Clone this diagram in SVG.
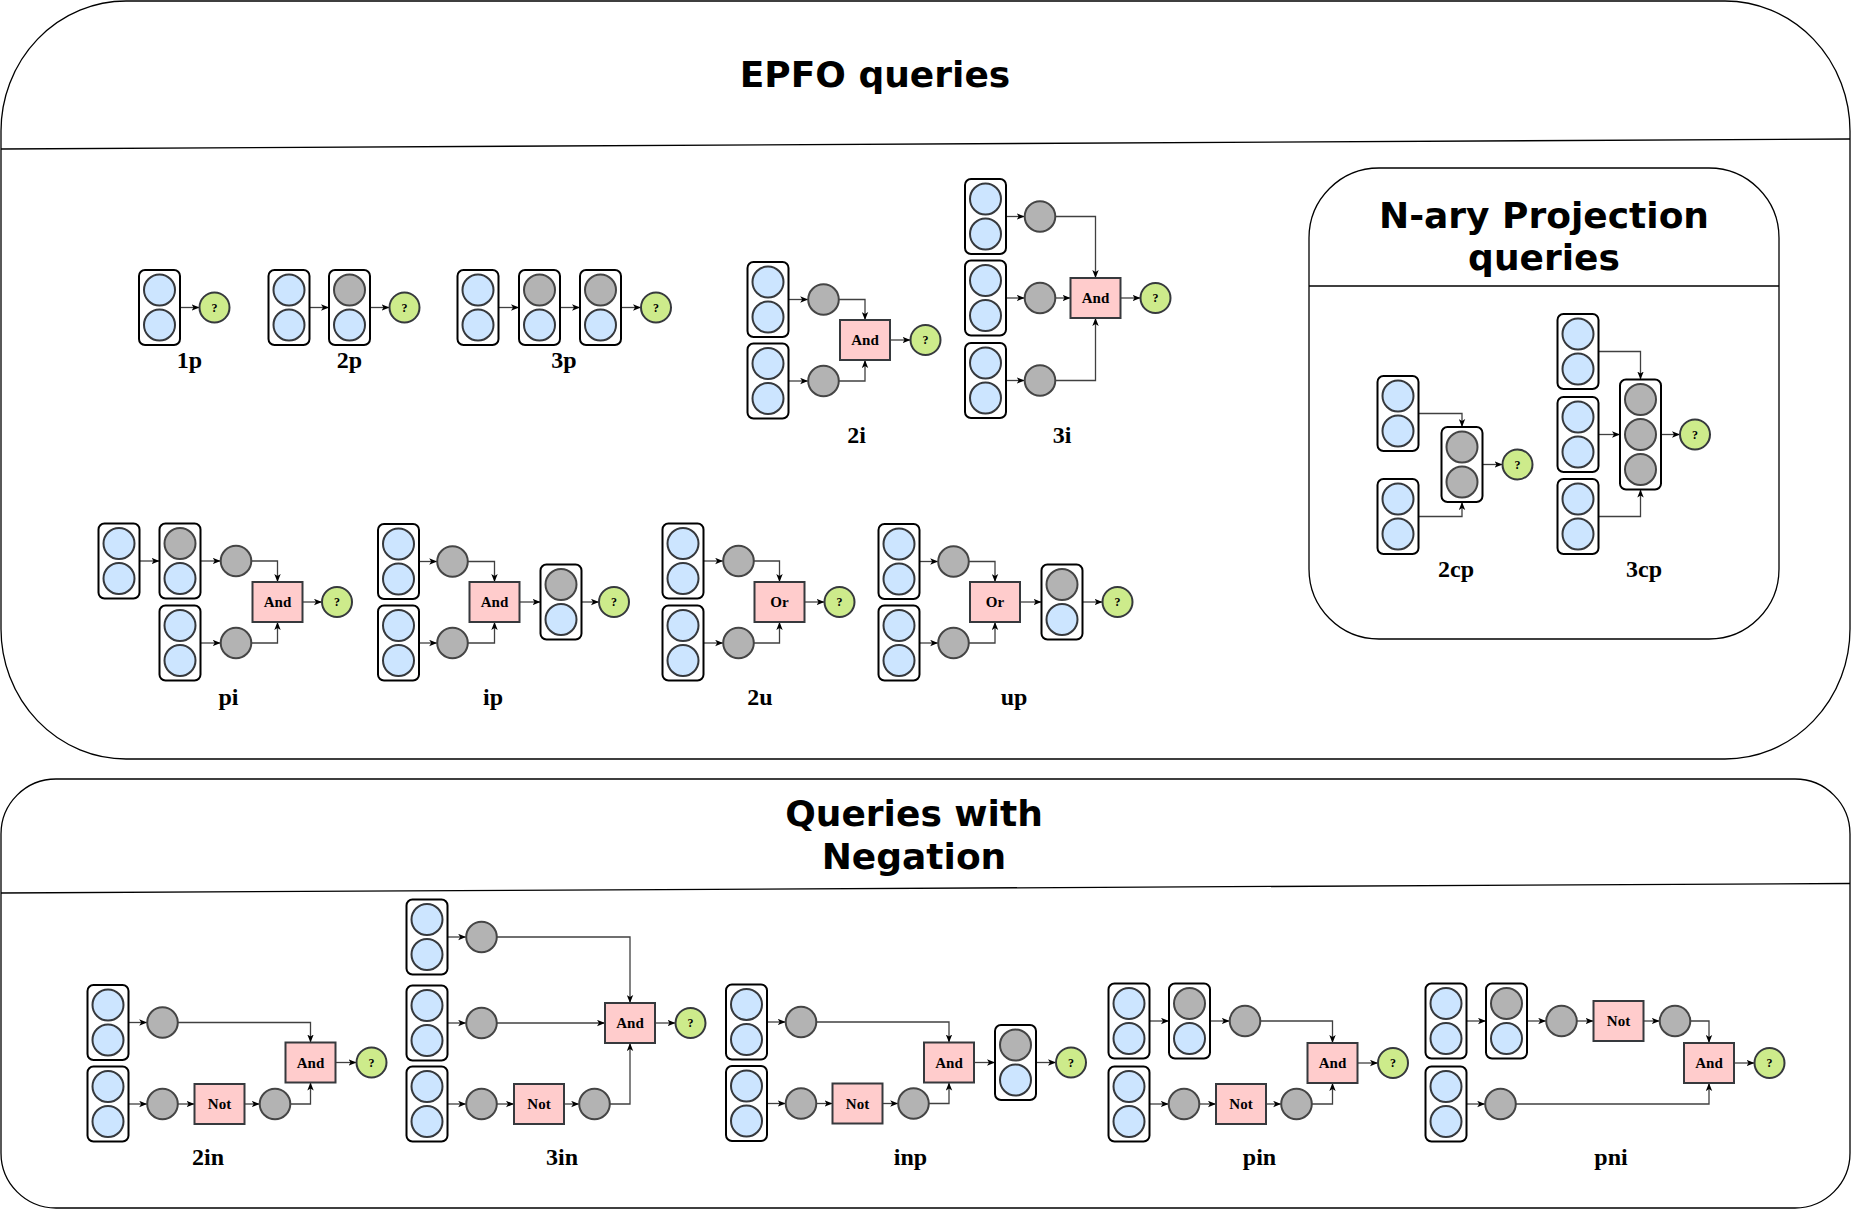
<svg xmlns="http://www.w3.org/2000/svg" xmlns:xlink="http://www.w3.org/1999/xlink" width="1852" height="1211" viewBox="0 0 1852 1211">
<style>
.cont{fill:#fff;stroke:#000;stroke-width:1.3}
.div{stroke:#000;stroke-width:1.3;fill:none}
.title{font-family:"DejaVu Sans",sans-serif;font-weight:bold;font-size:36px;text-anchor:middle;fill:#000}
.stk{fill:#fff;stroke:#000;stroke-width:2}
.b{fill:#cce5ff;stroke:#36393d;stroke-width:2}
.g{fill:#b3b3b3;stroke:#454545;stroke-width:2}
.ans{fill:#cdeb8b;stroke:#36393d;stroke-width:2}
.op{fill:#ffcccc;stroke:#36393d;stroke-width:2}
.t{font-family:"Liberation Serif","Times New Roman",serif;font-weight:bold;text-anchor:middle;fill:#000}
.lbl{font-size:24px}
.opt{font-size:15px}
.qt{font-size:12px}
.e{fill:none;stroke:#404040;stroke-width:1.3;marker-end:url(#arr)}
</style>
<defs>
<marker id="arr" viewBox="0 0 10 8" refX="10" refY="4" markerWidth="8" markerHeight="7" markerUnits="userSpaceOnUse" orient="auto"><path d="M0,0 L10,4 L0,8 L2.5,4 z" fill="#000"/></marker>
<g id="S-bb"><rect x="0" y="0" width="41" height="75" rx="6" class="stk"/><circle cx="20.5" cy="20" r="15.5" class="b"/><circle cx="20.5" cy="55" r="15.5" class="b"/></g>
<g id="S-gb"><rect x="0" y="0" width="41" height="75" rx="6" class="stk"/><circle cx="20.5" cy="20" r="15.5" class="g"/><circle cx="20.5" cy="55" r="15.5" class="b"/></g>
<g id="S-gg"><rect x="0" y="0" width="41" height="75" rx="6" class="stk"/><circle cx="20.5" cy="20" r="15.5" class="g"/><circle cx="20.5" cy="55" r="15.5" class="g"/></g>
<g id="S-ggg"><rect x="0" y="0" width="41" height="110" rx="6" class="stk"/><circle cx="20.5" cy="20" r="15.5" class="g"/><circle cx="20.5" cy="55" r="15.5" class="g"/><circle cx="20.5" cy="90" r="15.5" class="g"/></g>
<circle id="G" r="15.3" class="g"/>
<g id="A"><circle r="15" class="ans"/><text y="4" class="t qt">?</text></g>
<g id="AND"><rect x="-25" y="-20" width="50" height="40" class="op"/><text y="5" class="t opt">And</text></g>
<g id="OR"><rect x="-25" y="-20" width="50" height="40" class="op"/><text y="5" class="t opt">Or</text></g>
<g id="NOT"><rect x="-25" y="-20" width="50" height="40" class="op"/><text y="5" class="t opt">Not</text></g>
</defs>

<!-- containers -->
<g id="epfo-container">
<rect x="1" y="1" width="1849" height="758" rx="125" ry="130" class="cont"/>
<line x1="1" y1="149" x2="1850" y2="139" class="div"/>
<text x="875" y="87" class="title">EPFO queries</text>
</g>
<g id="negation-container">
<rect x="1" y="779" width="1849" height="429" rx="55" ry="55" class="cont"/>
<line x1="1" y1="893" x2="1850" y2="883.5" class="div"/>
<text x="914" y="826" class="title">Queries with</text>
<text x="914" y="869" class="title">Negation</text>
</g>
<g id="nary-container">
<rect x="1309" y="168" width="470" height="471" rx="70" ry="70" class="cont"/>
<line x1="1309" y1="286" x2="1779" y2="286" class="div"/>
<text x="1544" y="228" class="title">N-ary Projection</text>
<text x="1544" y="270" class="title">queries</text>
</g>

<!-- connectors -->
<g id="connectors">
<!-- 1p -->
<path class="e" d="M180,307.5 H199.5"/>
<!-- 2p -->
<path class="e" d="M309.5,307.5 H329"/>
<path class="e" d="M370,307.5 H389.5"/>
<!-- 3p -->
<path class="e" d="M498.5,307.5 H519"/>
<path class="e" d="M560,307.5 H580"/>
<path class="e" d="M621,307.5 H641"/>
<!-- 2i -->
<path class="e" d="M788.5,299.5 H808.2"/>
<path class="e" d="M788.5,381 H808.2"/>
<path class="e" d="M838.8,299.5 H865 V320"/>
<path class="e" d="M838.8,381 H865 V360"/>
<path class="e" d="M890,340 H910.5"/>
<!-- 3i -->
<path class="e" d="M1006,216.5 H1024.7"/>
<path class="e" d="M1006,298 H1024.7"/>
<path class="e" d="M1006,380.5 H1024.7"/>
<path class="e" d="M1055.3,216.5 H1095.5 V278"/>
<path class="e" d="M1055.3,298 H1070.5"/>
<path class="e" d="M1055.3,380.5 H1095.5 V318"/>
<path class="e" d="M1120.5,298 H1140.5"/>
<!-- 2cp -->
<path class="e" d="M1418.5,413.5 H1462 V427"/>
<path class="e" d="M1418.5,516.5 H1462 V502"/>
<path class="e" d="M1482.5,464.5 H1502.5"/>
<!-- 3cp -->
<path class="e" d="M1598.5,351.5 H1640.5 V379.5"/>
<path class="e" d="M1598.5,434.5 H1620"/>
<path class="e" d="M1598.5,516.5 H1640.5 V489.5"/>
<path class="e" d="M1661,434.5 H1680"/>
<!-- pi -->
<path class="e" d="M139.5,561 H159.5"/>
<path class="e" d="M200.5,561 H220.7"/>
<path class="e" d="M200.5,643 H220.7"/>
<path class="e" d="M251.3,561 H277.5 V582"/>
<path class="e" d="M251.3,643 H277.5 V622"/>
<path class="e" d="M302.5,602 H322"/>
<!-- ip -->
<path class="e" d="M419,561.5 H437.2"/>
<path class="e" d="M419,643 H437.2"/>
<path class="e" d="M467.8,561.5 H494.5 V582"/>
<path class="e" d="M467.8,643 H494.5 V622"/>
<path class="e" d="M519.5,602 H540.5"/>
<path class="e" d="M581.5,602 H599"/>
<!-- 2u -->
<path class="e" d="M703.5,561 H723.2"/>
<path class="e" d="M703.5,643 H723.2"/>
<path class="e" d="M753.8,561 H779.5 V582"/>
<path class="e" d="M753.8,643 H779.5 V622"/>
<path class="e" d="M804.5,602 H824.5"/>
<!-- up -->
<path class="e" d="M919.5,561.5 H938.2"/>
<path class="e" d="M919.5,643 H938.2"/>
<path class="e" d="M968.8,561.5 H995 V582"/>
<path class="e" d="M968.8,643 H995 V622"/>
<path class="e" d="M1020,602 H1041.5"/>
<path class="e" d="M1082.5,602 H1102.5"/>
<!-- 2in -->
<path class="e" d="M128.5,1022.5 H147.2"/>
<path class="e" d="M128.5,1104 H147.2"/>
<path class="e" d="M177.8,1104 H194.5"/>
<path class="e" d="M244.5,1104 H259.7"/>
<path class="e" d="M177.8,1022.5 H310.5 V1042.5"/>
<path class="e" d="M290.3,1104 H310.5 V1082.5"/>
<path class="e" d="M335.5,1062.5 H356.5"/>
<!-- 3in -->
<path class="e" d="M447.5,937 H466.2"/>
<path class="e" d="M447.5,1023 H466.2"/>
<path class="e" d="M447.5,1104 H466.2"/>
<path class="e" d="M496.8,937 H630 V1003"/>
<path class="e" d="M496.8,1023 H605"/>
<path class="e" d="M496.8,1104 H514"/>
<path class="e" d="M564,1104 H579.2"/>
<path class="e" d="M609.8,1104 H630 V1043"/>
<path class="e" d="M655,1023 H675.5"/>
<!-- inp -->
<path class="e" d="M767,1022 H785.7"/>
<path class="e" d="M767,1103.5 H785.7"/>
<path class="e" d="M816.3,1103.5 H832.5"/>
<path class="e" d="M882.5,1103.5 H898.2"/>
<path class="e" d="M816.3,1022 H949 V1042.5"/>
<path class="e" d="M928.8,1103.5 H949 V1082.5"/>
<path class="e" d="M974,1062.5 H995"/>
<path class="e" d="M1036,1062.5 H1056"/>
<!-- pin -->
<path class="e" d="M1149.5,1021 H1169"/>
<path class="e" d="M1210,1021 H1229.7"/>
<path class="e" d="M1149.5,1104 H1168.7"/>
<path class="e" d="M1199.3,1104 H1216"/>
<path class="e" d="M1266,1104 H1281.2"/>
<path class="e" d="M1260.3,1021 H1332.5 V1043"/>
<path class="e" d="M1311.8,1104 H1332.5 V1083"/>
<path class="e" d="M1357.5,1063 H1378"/>
<!-- pni -->
<path class="e" d="M1466.5,1021 H1486"/>
<path class="e" d="M1527,1021 H1546.2"/>
<path class="e" d="M1576.8,1021 H1593.5"/>
<path class="e" d="M1643.5,1021 H1659.7"/>
<path class="e" d="M1690.3,1021 H1709 V1043"/>
<path class="e" d="M1466.5,1104 H1485.2"/>
<path class="e" d="M1515.8,1104 H1709 V1083"/>
<path class="e" d="M1734,1063 H1754.5"/>
</g>

<!-- 1p -->
<g id="q1p">
<g id="q1p-s1"><use xlink:href="#S-bb" x="139" y="270"/></g>
<g id="q1p-ans"><use xlink:href="#A" x="214.5" y="307.5"/></g>
<text x="189.5" y="368" class="t lbl">1p</text>
</g>
<!-- 2p -->
<g id="q2p">
<g id="q2p-s1"><use xlink:href="#S-bb" x="268.5" y="270"/></g>
<g id="q2p-s2"><use xlink:href="#S-gb" x="329" y="270"/></g>
<g id="q2p-ans"><use xlink:href="#A" x="404.5" y="307.5"/></g>
<text x="349.5" y="368" class="t lbl">2p</text>
</g>
<!-- 3p -->
<g id="q3p">
<g id="q3p-s1"><use xlink:href="#S-bb" x="457.5" y="270"/></g>
<g id="q3p-s2"><use xlink:href="#S-gb" x="519" y="270"/></g>
<g id="q3p-s3"><use xlink:href="#S-gb" x="580" y="270"/></g>
<g id="q3p-ans"><use xlink:href="#A" x="656" y="307.5"/></g>
<text x="564" y="368" class="t lbl">3p</text>
</g>
<!-- 2i -->
<g id="q2i">
<g id="q2i-s1"><use xlink:href="#S-bb" x="747.5" y="262"/></g>
<g id="q2i-s2"><use xlink:href="#S-bb" x="747.5" y="343.5"/></g>
<g id="q2i-g1"><use xlink:href="#G" x="823.5" y="299.5"/></g>
<g id="q2i-g2"><use xlink:href="#G" x="823.5" y="381"/></g>
<g id="q2i-and"><use xlink:href="#AND" x="865" y="340"/></g>
<g id="q2i-ans"><use xlink:href="#A" x="925.5" y="340"/></g>
<text x="856.5" y="443" class="t lbl">2i</text>
</g>
<!-- 3i -->
<g id="q3i">
<g id="q3i-s1"><use xlink:href="#S-bb" x="965" y="179"/></g>
<g id="q3i-s2"><use xlink:href="#S-bb" x="965" y="260.5"/></g>
<g id="q3i-s3"><use xlink:href="#S-bb" x="965" y="343"/></g>
<g id="q3i-g1"><use xlink:href="#G" x="1040" y="216.5"/></g>
<g id="q3i-g2"><use xlink:href="#G" x="1040" y="298"/></g>
<g id="q3i-g3"><use xlink:href="#G" x="1040" y="380.5"/></g>
<g id="q3i-and"><use xlink:href="#AND" x="1095.5" y="298"/></g>
<g id="q3i-ans"><use xlink:href="#A" x="1155.5" y="298"/></g>
<text x="1062" y="443" class="t lbl">3i</text>
</g>
<!-- 2cp -->
<g id="q2cp">
<g id="q2cp-s1"><use xlink:href="#S-bb" x="1377.5" y="376"/></g>
<g id="q2cp-s2"><use xlink:href="#S-bb" x="1377.5" y="479"/></g>
<g id="q2cp-s3"><use xlink:href="#S-gg" x="1441.5" y="427"/></g>
<g id="q2cp-ans"><use xlink:href="#A" x="1517.5" y="464.5"/></g>
<text x="1456" y="577" class="t lbl">2cp</text>
</g>
<!-- 3cp -->
<g id="q3cp">
<g id="q3cp-s1"><use xlink:href="#S-bb" x="1557.5" y="314"/></g>
<g id="q3cp-s2"><use xlink:href="#S-bb" x="1557.5" y="397"/></g>
<g id="q3cp-s3"><use xlink:href="#S-bb" x="1557.5" y="479"/></g>
<g id="q3cp-s4"><use xlink:href="#S-ggg" x="1620" y="379.5"/></g>
<g id="q3cp-ans"><use xlink:href="#A" x="1695" y="434.5"/></g>
<text x="1644" y="577" class="t lbl">3cp</text>
</g>
<!-- pi -->
<g id="qpi">
<g id="qpi-s1"><use xlink:href="#S-bb" x="98.5" y="523.5"/></g>
<g id="qpi-s2"><use xlink:href="#S-gb" x="159.5" y="523.5"/></g>
<g id="qpi-s3"><use xlink:href="#S-bb" x="159.5" y="605.5"/></g>
<g id="qpi-g1"><use xlink:href="#G" x="236" y="561"/></g>
<g id="qpi-g2"><use xlink:href="#G" x="236" y="643"/></g>
<g id="qpi-and"><use xlink:href="#AND" x="277.5" y="602"/></g>
<g id="qpi-ans"><use xlink:href="#A" x="337" y="602"/></g>
<text x="228.5" y="705" class="t lbl">pi</text>
</g>
<!-- ip -->
<g id="qip">
<g id="qip-s1"><use xlink:href="#S-bb" x="378" y="524"/></g>
<g id="qip-s2"><use xlink:href="#S-bb" x="378" y="605.5"/></g>
<g id="qip-g1"><use xlink:href="#G" x="452.5" y="561.5"/></g>
<g id="qip-g2"><use xlink:href="#G" x="452.5" y="643"/></g>
<g id="qip-and"><use xlink:href="#AND" x="494.5" y="602"/></g>
<g id="qip-s3"><use xlink:href="#S-gb" x="540.5" y="564.5"/></g>
<g id="qip-ans"><use xlink:href="#A" x="614" y="602"/></g>
<text x="493" y="705" class="t lbl">ip</text>
</g>
<!-- 2u -->
<g id="q2u">
<g id="q2u-s1"><use xlink:href="#S-bb" x="662.5" y="523.5"/></g>
<g id="q2u-s2"><use xlink:href="#S-bb" x="662.5" y="605.5"/></g>
<g id="q2u-g1"><use xlink:href="#G" x="738.5" y="561"/></g>
<g id="q2u-g2"><use xlink:href="#G" x="738.5" y="643"/></g>
<g id="q2u-or"><use xlink:href="#OR" x="779.5" y="602"/></g>
<g id="q2u-ans"><use xlink:href="#A" x="839.5" y="602"/></g>
<text x="760" y="705" class="t lbl">2u</text>
</g>
<!-- up -->
<g id="qup">
<g id="qup-s1"><use xlink:href="#S-bb" x="878.5" y="524"/></g>
<g id="qup-s2"><use xlink:href="#S-bb" x="878.5" y="605.5"/></g>
<g id="qup-g1"><use xlink:href="#G" x="953.5" y="561.5"/></g>
<g id="qup-g2"><use xlink:href="#G" x="953.5" y="643"/></g>
<g id="qup-or"><use xlink:href="#OR" x="995" y="602"/></g>
<g id="qup-s3"><use xlink:href="#S-gb" x="1041.5" y="564.5"/></g>
<g id="qup-ans"><use xlink:href="#A" x="1117.5" y="602"/></g>
<text x="1014" y="705" class="t lbl">up</text>
</g>
<!-- 2in -->
<g id="q2in">
<g id="q2in-s1"><use xlink:href="#S-bb" x="87.5" y="985"/></g>
<g id="q2in-s2"><use xlink:href="#S-bb" x="87.5" y="1066.5"/></g>
<g id="q2in-g1"><use xlink:href="#G" x="162.5" y="1022.5"/></g>
<g id="q2in-g2"><use xlink:href="#G" x="162.5" y="1104"/></g>
<g id="q2in-not"><use xlink:href="#NOT" x="219.5" y="1104"/></g>
<g id="q2in-g3"><use xlink:href="#G" x="275" y="1104"/></g>
<g id="q2in-and"><use xlink:href="#AND" x="310.5" y="1062.5"/></g>
<g id="q2in-ans"><use xlink:href="#A" x="371.5" y="1062.5"/></g>
<text x="208" y="1165" class="t lbl">2in</text>
</g>
<!-- 3in -->
<g id="q3in">
<g id="q3in-s1"><use xlink:href="#S-bb" x="406.5" y="899.5"/></g>
<g id="q3in-s2"><use xlink:href="#S-bb" x="406.5" y="985.5"/></g>
<g id="q3in-s3"><use xlink:href="#S-bb" x="406.5" y="1066.5"/></g>
<g id="q3in-g1"><use xlink:href="#G" x="481.5" y="937"/></g>
<g id="q3in-g2"><use xlink:href="#G" x="481.5" y="1023"/></g>
<g id="q3in-g3"><use xlink:href="#G" x="481.5" y="1104"/></g>
<g id="q3in-not"><use xlink:href="#NOT" x="539" y="1104"/></g>
<g id="q3in-g4"><use xlink:href="#G" x="594.5" y="1104"/></g>
<g id="q3in-and"><use xlink:href="#AND" x="630" y="1023"/></g>
<g id="q3in-ans"><use xlink:href="#A" x="690.5" y="1023"/></g>
<text x="562" y="1165" class="t lbl">3in</text>
</g>
<!-- inp -->
<g id="qinp">
<g id="qinp-s1"><use xlink:href="#S-bb" x="726" y="984.5"/></g>
<g id="qinp-s2"><use xlink:href="#S-bb" x="726" y="1066"/></g>
<g id="qinp-g1"><use xlink:href="#G" x="801" y="1022"/></g>
<g id="qinp-g2"><use xlink:href="#G" x="801" y="1103.5"/></g>
<g id="qinp-not"><use xlink:href="#NOT" x="857.5" y="1103.5"/></g>
<g id="qinp-g3"><use xlink:href="#G" x="913.5" y="1103.5"/></g>
<g id="qinp-and"><use xlink:href="#AND" x="949" y="1062.5"/></g>
<g id="qinp-s3"><use xlink:href="#S-gb" x="995" y="1025"/></g>
<g id="qinp-ans"><use xlink:href="#A" x="1071" y="1062.5"/></g>
<text x="910.5" y="1165" class="t lbl">inp</text>
</g>
<!-- pin -->
<g id="qpin">
<g id="qpin-s1"><use xlink:href="#S-bb" x="1108.5" y="983.5"/></g>
<g id="qpin-s2"><use xlink:href="#S-gb" x="1169" y="983.5"/></g>
<g id="qpin-s3"><use xlink:href="#S-bb" x="1108.5" y="1066.5"/></g>
<g id="qpin-g1"><use xlink:href="#G" x="1245" y="1021"/></g>
<g id="qpin-g2"><use xlink:href="#G" x="1184" y="1104"/></g>
<g id="qpin-not"><use xlink:href="#NOT" x="1241" y="1104"/></g>
<g id="qpin-g3"><use xlink:href="#G" x="1296.5" y="1104"/></g>
<g id="qpin-and"><use xlink:href="#AND" x="1332.5" y="1063"/></g>
<g id="qpin-ans"><use xlink:href="#A" x="1393" y="1063"/></g>
<text x="1259.5" y="1165" class="t lbl">pin</text>
</g>
<!-- pni -->
<g id="qpni">
<g id="qpni-s1"><use xlink:href="#S-bb" x="1425.5" y="983.5"/></g>
<g id="qpni-s2"><use xlink:href="#S-gb" x="1486" y="983.5"/></g>
<g id="qpni-s3"><use xlink:href="#S-bb" x="1425.5" y="1066.5"/></g>
<g id="qpni-g1"><use xlink:href="#G" x="1561.5" y="1021"/></g>
<g id="qpni-not"><use xlink:href="#NOT" x="1618.5" y="1021"/></g>
<g id="qpni-g2"><use xlink:href="#G" x="1675" y="1021"/></g>
<g id="qpni-g3"><use xlink:href="#G" x="1500.5" y="1104"/></g>
<g id="qpni-and"><use xlink:href="#AND" x="1709" y="1063"/></g>
<g id="qpni-ans"><use xlink:href="#A" x="1769.5" y="1063"/></g>
<text x="1611" y="1165" class="t lbl">pni</text>
</g>
</svg>
